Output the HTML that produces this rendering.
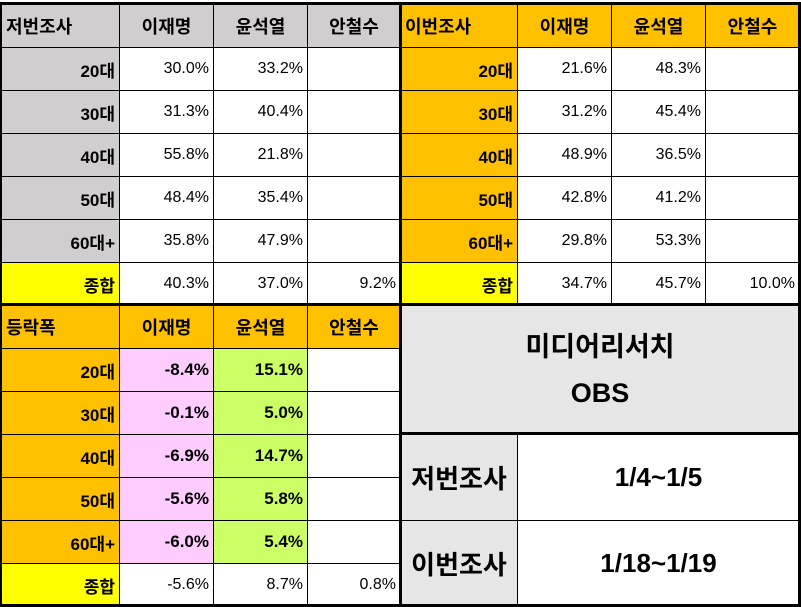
<!DOCTYPE html><html><head><meta charset="utf-8"><style>
body{margin:0;width:801px;height:607px;background:#fff;position:relative;overflow:hidden;font-family:"Liberation Sans","Noto Sans CJK KR",sans-serif}
table{position:absolute;left:1px;top:3px;border-collapse:collapse;table-layout:fixed}
td{border:1px solid #000;padding:0 4px;font-size:16px;height:42px;box-sizing:border-box;text-align:right;white-space:nowrap;overflow:hidden}
.h{font-weight:bold;font-size:18px;text-align:center}
.l{text-align:left;padding-left:4px}
.b{font-weight:bold;font-size:17px}
.g{background:#d0cece}.o{background:#ffc000}.y{background:#ffff00}.p{background:#ffccff}.gr{background:#ccff66}.bx{background:#e7e6e6}
.ln{position:absolute;background:#000}
</style></head><body>
<table>
<colgroup><col style="width:118px"><col style="width:94px"><col style="width:94px"><col style="width:93px"><col style="width:117px"><col style="width:94px"><col style="width:94px"><col style="width:94px"></colgroup>
<tr style="height:44px"><td class="h g l">저번조사</td><td class="h g">이재명</td><td class="h g">윤석열</td><td class="h g">안철수</td><td class="h o l">이번조사</td><td class="h o">이재명</td><td class="h o">윤석열</td><td class="h o">안철수</td></tr>
<tr style="height:43px"><td class="g b">20대</td><td>30.0%</td><td>33.2%</td><td></td><td class="o b">20대</td><td>21.6%</td><td>48.3%</td><td></td></tr>
<tr style="height:43px"><td class="g b">30대</td><td>31.3%</td><td>40.4%</td><td></td><td class="o b">30대</td><td>31.2%</td><td>45.4%</td><td></td></tr>
<tr style="height:43px"><td class="g b">40대</td><td>55.8%</td><td>21.8%</td><td></td><td class="o b">40대</td><td>48.9%</td><td>36.5%</td><td></td></tr>
<tr style="height:43px"><td class="g b">50대</td><td>48.4%</td><td>35.4%</td><td></td><td class="o b">50대</td><td>42.8%</td><td>41.2%</td><td></td></tr>
<tr style="height:43px"><td class="g b">60대+</td><td>35.8%</td><td>47.9%</td><td></td><td class="o b">60대+</td><td>29.8%</td><td>53.3%</td><td></td></tr>
<tr style="height:43px"><td class="y b">종합</td><td>40.3%</td><td>37.0%</td><td>9.2%</td><td class="y b">종합</td><td>34.7%</td><td>45.7%</td><td>10.0%</td></tr>
<tr style="height:43px"><td class="h o l">등락폭</td><td class="h o">이재명</td><td class="h o">윤석열</td><td class="h o">안철수</td><td colspan="4" rowspan="3" class="bx" style="text-align:center;font-weight:bold;font-size:27px;line-height:46px">미디어리서치<br>OBS</td></tr>
<tr style="height:43px"><td class="o b">20대</td><td class="p b">-8.4%</td><td class="gr b">15.1%</td><td></td></tr>
<tr style="height:43px"><td class="o b">30대</td><td class="p b">-0.1%</td><td class="gr b">5.0%</td><td></td></tr>
<tr style="height:43px"><td class="o b">40대</td><td class="p b">-6.9%</td><td class="gr b">14.7%</td><td></td><td rowspan="2" class="bx" style="text-align:center;font-weight:bold;font-size:26px">저번조사</td><td colspan="3" rowspan="2" style="text-align:center;font-weight:bold;font-size:26px">1/4~1/5</td></tr>
<tr style="height:43px"><td class="o b">50대</td><td class="p b">-5.6%</td><td class="gr b">5.8%</td><td></td></tr>
<tr style="height:43px"><td class="o b">60대+</td><td class="p b">-6.0%</td><td class="gr b">5.4%</td><td></td><td rowspan="2" class="bx" style="text-align:center;font-weight:bold;font-size:26px">이번조사</td><td colspan="3" rowspan="2" style="text-align:center;font-weight:bold;font-size:26px">1/18~1/19</td></tr>
<tr style="height:43px"><td class="y b">종합</td><td>-5.6%</td><td>8.7%</td><td>0.8%</td></tr>
</table>
<div class="ln" style="left:0;top:2px;width:801px;height:3px"></div>
<div class="ln" style="left:0;top:303px;width:801px;height:3px"></div>
<div class="ln" style="left:0;top:604px;width:801px;height:3px"></div>
<div class="ln" style="left:0;top:2px;width:2px;height:605px"></div>
<div class="ln" style="left:399px;top:2px;width:3px;height:605px"></div>
<div class="ln" style="left:798px;top:2px;width:3px;height:605px"></div>
<div class="ln" style="left:400px;top:432px;width:401px;height:2px"></div>
</body></html>
